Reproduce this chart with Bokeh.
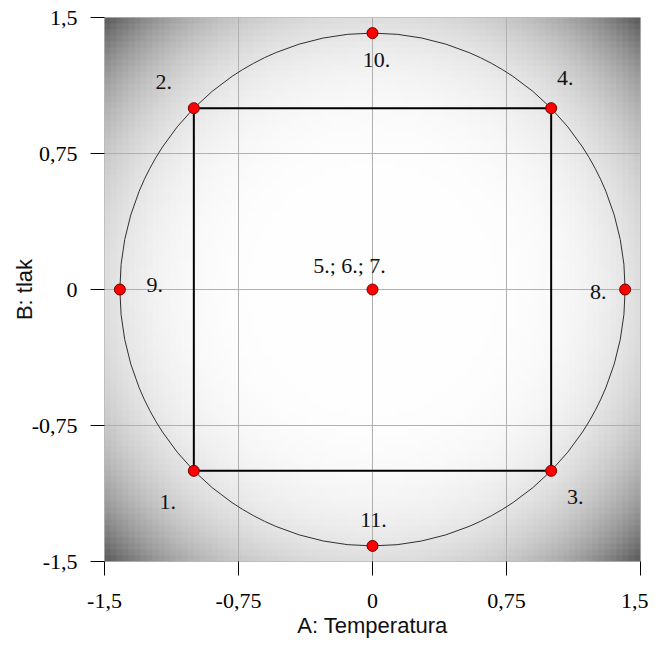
import numpy as np
from bokeh.plotting import figure
from bokeh.models import ColumnDataSource, FixedTicker, CustomJSTickFormatter, Range1d
from bokeh.core.properties import value
from bokeh.embed import file_html
from bokeh.resources import INLINE

# --- data (coded factor levels of the central composite design) ---
run_labels = ["1.", "2.", "3.", "4.", "5.; 6.; 7.", "8.", "9.", "10.", "11."]
a_temp = [-1, -1, 1, 1, 0, 1.414, -1.414, 0, 0]
b_press = [-1, 1, -1, 1, 0, 0, 0, 1.414, -1.414]
alpha = 1.414
square_x = [-1, -1, 1, 1, -1]
square_y = [-1, 1, 1, -1, -1]
tick_values = [-1.5, -0.75, 0, 0.75, 1.5]

# label placement offsets (screen px)
lab_dx = [-26, -30, 24, 14, -23, -27, 35, 4, 1]
lab_dy = [31, -26, 26, -30, -24, 2, -5, 27, -26]

p = figure(width=648, height=641, output_backend="svg", toolbar_location=None,
           x_range=Range1d(-1.5, 1.5), y_range=Range1d(-1.5, 1.5),
           frame_width=536, frame_height=544,
           min_border_left=104, min_border_top=17, min_border_right=8, min_border_bottom=80)
p.background_fill_color = "white"
p.border_fill_color = "white"
p.outline_line_color = "#b8b8b8"

# grey shading background (light centre, dark corners)
n = 90
cx = np.linspace(-1.5, 1.5, n)
XX, YY = np.meshgrid(cx, cx)
R = np.sqrt(XX**2 + YY**2) / np.sqrt(2 * 1.5**2)
dark = 158 * R**4.6
g = np.clip(255 - dark, 0, 255).astype(np.uint32)
img = (np.uint32(255) << 24) | (g << 16) | (g << 8) | g
p.image_rgba(image=[img.astype(np.uint32)], x=-1.5, y=-1.5, dw=3, dh=3, level="image")

# grid
for grid in (p.xgrid, p.ygrid):
    grid.ticker = FixedTicker(ticks=tick_values)
    grid.grid_line_color = "#b0b0b0"
    grid.grid_line_width = 1

# circle of radius alpha
p.ellipse(x=[0], y=[0], width=[2 * alpha], height=[2 * alpha],
          fill_alpha=0, line_color="#303030", line_width=1)
# factorial square
p.line(square_x, square_y, line_color="black", line_width=2)

src = ColumnDataSource(dict(x=a_temp, y=b_press, lab=run_labels, dx=lab_dx, dy=lab_dy))
p.scatter("x", "y", source=src, size=11, fill_color="red", line_color="#700000", line_width=1)
p.text("x", "y", text="lab", x_offset="dx", y_offset="dy", source=src,
       text_font=value("Liberation Serif"), text_font_size="22px", text_color="#111111",
       text_align="center", text_baseline="middle")

fmt = CustomJSTickFormatter(code="return String(tick).replace('.', ',');")
for ax in (p.xaxis[0], p.yaxis[0]):
    ax.ticker = FixedTicker(ticks=tick_values)
    ax.formatter = fmt
    ax.axis_line_color = None
    ax.major_tick_in = 0
    ax.major_tick_out = 14
    ax.major_tick_line_color = "black"
    ax.minor_tick_line_color = None
    ax.major_label_text_font = "Liberation Serif"
    ax.major_label_text_font_size = "22px"
    ax.major_label_text_color = "black"
    ax.axis_label_text_font = "Liberation Sans"
    ax.axis_label_text_font_style = "normal"
    ax.axis_label_text_font_size = "22px"
    ax.axis_label_text_color = "#111111"

p.xaxis.axis_label = "A: Temperatura"
p.yaxis.axis_label = "B: tlak"
p.xaxis.major_label_standoff = 18
p.xaxis.axis_label_standoff = 2
p.yaxis.major_label_standoff = 13
p.yaxis.axis_label_standoff = -8

open("out.html", "w").write(file_html(p, INLINE))
